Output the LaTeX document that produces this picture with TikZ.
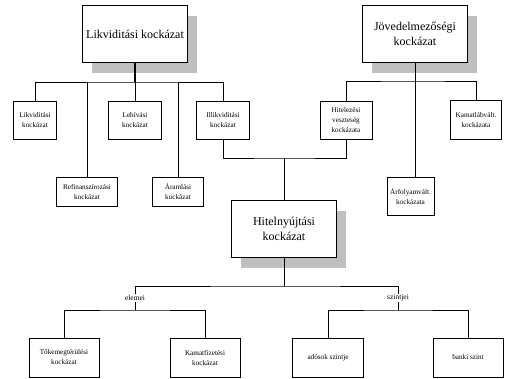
\documentclass[tikz,border=0pt]{standalone}
\usepackage{fontspec}
\setmainfont{Liberation Serif}
\usetikzlibrary{shadows,positioning}
\tikzset{
	bigbox/.style={
		draw=black,
		fill=white,
		line width=0.9pt,
		minimum width=105pt,
		minimum height=57pt,
		align=center,
		font=\fontsize{12}{14.5}\selectfont,
		general shadow={fill=black!25, shadow xshift=9pt, shadow yshift=-10pt}
	},
	smallbox/.style 2 args={
		draw=black,
		fill=white,
		line width=0.7pt,
		inner sep=0.5pt,
		minimum width=#1,
		minimum height=#2,
		align=center,
		font=\fontsize{7.2}{10}\selectfont
	},
	tag/.style={
		fill=white,
		inner sep=1pt,
		font=\fontsize{7.5}{9}\selectfont
	},
	link/.style={draw=black, line width=0.7pt},
	trunk/.style={draw=black, line width=1.5pt}
}

\begin{document}
\begin{tikzpicture}[x=1pt,y=-1pt]
	\useasboundingbox (0,0) rectangle (508,378);

	\node [bigbox] (lik) at (135,34) {Likviditási kockázat};
	\node [bigbox] (jov) at (415,34) {Jövedelmezőségi\\kockázat};
	\node [bigbox] (hny) at (284,229) {Hitelnyújtási\\kockázat};

	\node [smallbox={43pt}{38pt}] (l1) at (35,120) {Likviditási\\kockázat};
	\node [smallbox={61pt}{29pt}] (l2) at (87,191.5) {Refinanszírozási\\kockázat};
	\node [smallbox={53pt}{38pt}] (l3) at (135,120) {Lehívási\\kockázat};
	\node [smallbox={51pt}{29pt}] (l4) at (178,191.5) {Áramlási\\kockázat};
	\node [smallbox={53pt}{38pt}] (l5) at (223,120) {Illikviditási\\kockázat};

	\node [smallbox={52pt}{38pt}] (j1) at (346,120) {Hitelezési\\veszteség\\kockázata};
	\node [smallbox={47pt}{38pt}] (j2) at (410.5,196) {Árfolyamvált.\\kockázata};
	\node [smallbox={51pt}{39pt}] (j3) at (476,120) {Kamatlábvált.\\kockázata};

	\node [tag] (elemei) at (135,298) {elemei};
	\node [tag] (szintjei) at (398,298) {szintjei};

	\node [smallbox={70pt}{39pt}] (e1) at (64,357.5) {Tőkemegtérülési\\kockázat};
	\node [smallbox={70pt}{39pt}] (e2) at (205,357.5) {Kamatfizetési\\kockázat};
	\node [smallbox={71pt}{39pt}] (s1) at (328,357.5) {adósok szintje};
	\node [smallbox={70pt}{39pt}] (s2) at (468,357.5) {banki szint};

	\coordinate (lbar) at (135,82);
	\coordinate (jbar) at (415,81);
	\coordinate (mid) at (284,158);
	\coordinate (hbar) at (284,286);
	\coordinate (ebar) at (135,310);
	\coordinate (sbar) at (398,310);

	\draw [trunk] (lik) -- (lbar);
	\draw [link] (l1) |- (lbar) -| (l5);
	\draw [link] (l2) -- (l2 |- lbar);
	\draw [link] (l3) -- (l3 |- lbar);
	\draw [link] (l4) -- (l4 |- lbar);

	\draw [link] (jov) -- (jov |- j2.north);
	\draw [link] (j1) |- (jbar) -| (j3);

	\draw [link] (l5) |- (mid) -| (j1);
	\draw [link] (mid) -- (hny);

	\draw [link] (hny) -- (hbar);
	\draw [link] (elemei) |- (hbar) -| (szintjei);
	\draw [link] (elemei) -- (ebar);
	\draw [link] (e1) |- (ebar) -| (e2);
	\draw [link] (szintjei) -- (sbar);
	\draw [link] (s1) |- (sbar) -| (s2);
\end{tikzpicture}
\end{document}
